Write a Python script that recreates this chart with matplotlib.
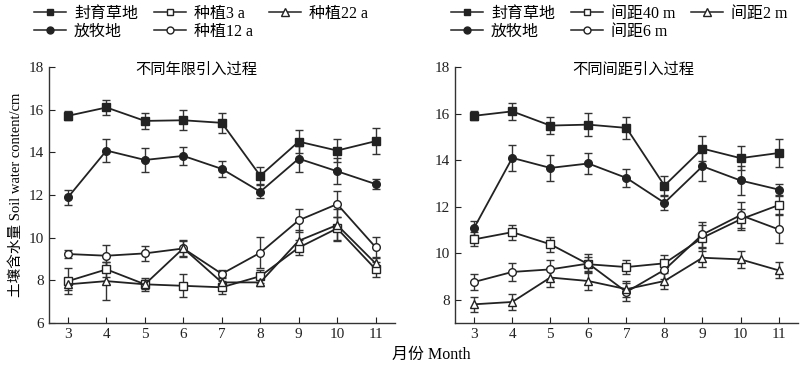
import numpy as np
import matplotlib
matplotlib.use("Agg")
import matplotlib.pyplot as plt
from matplotlib.lines import Line2D

plt.rcParams['font.family'] = ['Liberation Serif', 'Noto Sans CJK SC']
plt.rcParams['axes.unicode_minus'] = False

months = [3, 4, 5, 6, 7, 8, 9, 10, 11]

# left panel: different planting years
fy_a = [15.72, 16.11, 15.48, 15.51, 15.39, 12.91, 14.51, 14.09, 14.53]
fy_a_err = [0.22, 0.35, 0.37, 0.47, 0.46, 0.41, 0.55, 0.52, 0.62]
fm_a = [11.90, 14.09, 13.65, 13.84, 13.23, 12.16, 13.71, 13.12, 12.52]
fm_a_err = [0.35, 0.55, 0.56, 0.44, 0.38, 0.31, 0.61, 0.61, 0.23]
y3 = [7.97, 8.52, 7.82, 7.75, 7.68, 8.20, 9.54, 10.44, 8.53]
y3_err = [0.60, 0.35, 0.30, 0.54, 0.30, 0.30, 0.35, 0.55, 0.35]
y12 = [9.24, 9.16, 9.27, 9.50, 8.31, 9.30, 10.82, 11.58, 9.56]
y12_err = [0.20, 0.48, 0.35, 0.35, 0.17, 0.72, 0.53, 0.60, 0.50]
y22 = [7.82, 7.97, 7.82, 9.51, 7.91, 7.91, 9.86, 10.60, 8.80]
y22_err = [0.25, 0.89, 0.20, 0.40, 0.20, 0.15, 0.50, 0.75, 0.30]

# right panel: different spacing
fy_b = [15.91, 16.10, 15.49, 15.53, 15.39, 12.91, 14.50, 14.09, 14.31]
fy_b_err = [0.20, 0.36, 0.35, 0.49, 0.48, 0.40, 0.54, 0.51, 0.61]
fm_b = [11.10, 14.10, 13.67, 13.86, 13.24, 12.17, 13.74, 13.13, 12.74]
fm_b_err = [0.31, 0.56, 0.56, 0.44, 0.38, 0.29, 0.64, 0.61, 0.24]
d40 = [10.60, 10.91, 10.39, 9.53, 9.41, 9.57, 10.67, 11.46, 12.07]
d40_err = [0.30, 0.32, 0.33, 0.30, 0.30, 0.35, 0.55, 0.45, 0.40]
d6 = [8.77, 9.20, 9.31, 9.56, 8.34, 9.29, 10.81, 11.64, 11.03]
d6_err = [0.33, 0.40, 0.40, 0.40, 0.40, 0.40, 0.55, 0.55, 0.60]
d2 = [7.81, 7.91, 8.96, 8.81, 8.46, 8.81, 9.81, 9.74, 9.27]
d2_err = [0.33, 0.33, 0.40, 0.40, 0.35, 0.35, 0.40, 0.35, 0.35]

ink = '#222222'
fig = plt.figure(figsize=(8, 3.71), dpi=100)
ax1 = fig.add_axes([0.061, 0.129, 0.4325, 0.69])
ax2 = fig.add_axes([0.569, 0.129, 0.428, 0.69])


def draw(ax, series, ylim, yticks, title, tx, lx):
    handles = []
    for vals, err, mk, fc, lab in series:
        ms = 6 if mk == '^' else 5.5
        ax.errorbar(months, vals, yerr=err, marker=mk, ms=ms,
                    mfc=fc, mec=ink, color=ink, lw=1.3, elinewidth=1.0,
                    capsize=3, capthick=1.0, ecolor='#333333')
        handles.append(Line2D([], [], marker=mk, ms=ms - 0.5, mfc=fc, mec=ink,
                              color=ink, lw=1.1, label=lab))
    ax.set_xlim(2.5, 11.5)
    ax.set_ylim(*ylim)
    ax.set_xticks(months)
    ax.set_yticks(yticks)
    ax.spines['top'].set_visible(False)
    ax.spines['right'].set_visible(False)
    for s in ('left', 'bottom'):
        ax.spines[s].set_color('#333333')
        ax.spines[s].set_linewidth(1.0)
    ax.tick_params(direction='in', length=4, labelsize=11, colors='#222222')
    ax.text(tx, 17.9, title, ha='center', va='center', fontsize=11)
    ax.legend(handles=handles, ncol=3, loc='lower left', bbox_to_anchor=(lx, 1.07),
              frameon=False, fontsize=11.5, handlelength=2.0, handletextpad=0.5,
              columnspacing=1.0, labelspacing=0.1, borderaxespad=0.2)


draw(ax1, [(fy_a, fy_a_err, 's', ink, '封育草地'),
           (fm_a, fm_a_err, 'o', ink, '放牧地'),
           (y3, y3_err, 's', 'white', '种植3 a'),
           (y12, y12_err, 'o', 'white', '种植12 a'),
           (y22, y22_err, '^', 'white', '种植22 a')],
     (6, 18), [6, 8, 10, 12, 14, 16, 18], '不同年限引入过程', 6.33, -0.07)

draw(ax2, [(fy_b, fy_b_err, 's', ink, '封育草地'),
           (fm_b, fm_b_err, 'o', ink, '放牧地'),
           (d40, d40_err, 's', 'white', '间距40 m'),
           (d6, d6_err, 'o', 'white', '间距6 m'),
           (d2, d2_err, '^', 'white', '间距2 m')],
     (7, 18), [8, 10, 12, 14, 16, 18], '不同间距引入过程', 7.17, -0.04)

ax1.set_ylabel('土壤含水量 Soil water content/cm', fontsize=10.5, labelpad=4)
fig.text(0.539, 0.022, '月份 Month', ha='center', va='bottom', fontsize=11.5)

fig.savefig('out.png', dpi=100)
